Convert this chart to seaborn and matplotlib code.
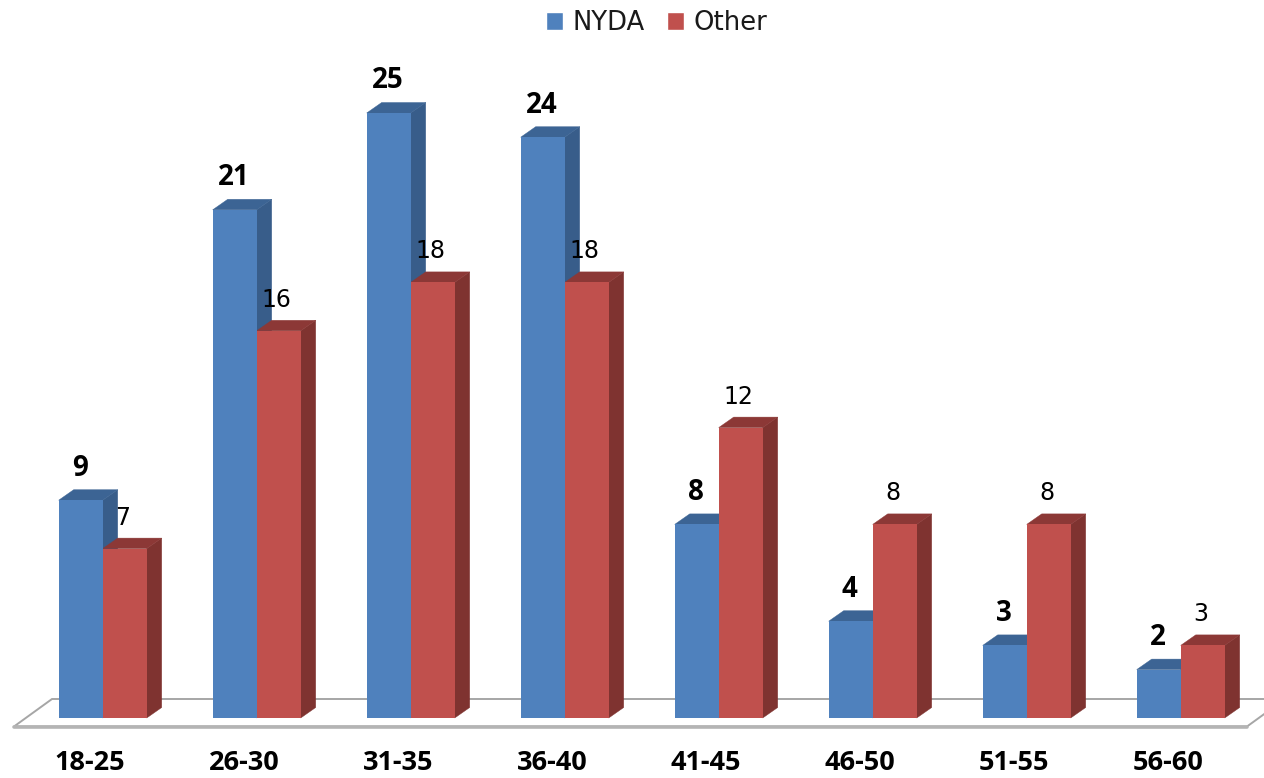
import matplotlib
matplotlib.use("Agg")
import matplotlib.pyplot as plt
from matplotlib.patches import Polygon, Rectangle
import pandas as pd
import seaborn as sns

age_groups = ["18-25", "26-30", "31-35", "36-40", "41-45", "46-50", "51-55", "56-60"]
nyda = [9, 21, 25, 24, 8, 4, 3, 2]
other = [7, 16, 18, 18, 12, 8, 8, 3]
series_names = ["NYDA", "Other"]
front_colors = ["#4F81BD", "#C0504D"]
side_colors = ["#385D8A", "#7F3330"]
top_colors = ["#3C6494", "#8C3836"]

W, H = 1264, 778
PX_PER_CAT = 154.0
PX_PER_UNIT = 24.2
X0, Y0 = 102.7, 718.0
DX_PX, DY_PX = 15.0, 10.5

df = pd.DataFrame({
    "age": age_groups * 2,
    "count": nyda + other,
    "series": [series_names[0]] * len(nyda) + [series_names[1]] * len(other),
})

sns.set_theme(style="white")
plt.rcParams["font.family"] = ["Open Sans", "DejaVu Sans"]

fig = plt.figure(figsize=(W / 100, H / 100), dpi=100)
ax = fig.add_axes([0, 0, 1, 1])
sns.barplot(data=df, x="age", y="count", hue="series", order=age_groups,
            hue_order=series_names, palette=front_colors, width=88 / PX_PER_CAT,
            gap=0, saturation=1, linewidth=0, legend=False, ax=ax, zorder=3)

ax.set_xlim(-X0 / PX_PER_CAT, (W - X0) / PX_PER_CAT)
ax.set_ylim(-(H - Y0) / PX_PER_UNIT, Y0 / PX_PER_UNIT)
ax.axis("off")

dx = DX_PX / PX_PER_CAT
dy = DY_PX / PX_PER_UNIT


def px(x, y):
    return ((x - X0) / PX_PER_CAT, (Y0 - y) / PX_PER_UNIT)


# floor of the 3D plot
floor_pts = [px(14, 726.5), px(52, 699), px(1285, 699), px(1247, 726.5)]
ax.add_patch(Polygon(floor_pts, closed=True, facecolor="white", edgecolor="#A6A6A6",
                     linewidth=1.4, zorder=1))
fx, fy = zip(px(14, 726.5), px(1247, 726.5))
ax.plot(fx, fy, color="#B4B4B4", linewidth=2.6, zorder=1.1, solid_capstyle="round")

# 3D faces built from the seaborn bars
for s, container in enumerate(ax.containers):
    for bar in container:
        x0, w, h = bar.get_x(), bar.get_width(), bar.get_height()
        x1 = x0 + w
        z = 2.6 if s == 1 else 2.5
        ax.add_patch(Polygon([(x1, 0), (x1 + dx, dy), (x1 + dx, h + dy), (x1, h)], closed=True,
                             facecolor=side_colors[s], edgecolor=side_colors[s], linewidth=0.3, zorder=z))
        ax.add_patch(Polygon([(x0, h), (x0 + dx, h + dy), (x1 + dx, h + dy), (x1, h)], closed=True,
                             facecolor=top_colors[s], edgecolor=top_colors[s], linewidth=0.3, zorder=z))

# Other bars sit in front of NYDA side faces
for bar in ax.containers[1]:
    bar.set_zorder(3.2)

# value labels
for bar in ax.containers[0]:
    h = bar.get_height()
    ax.annotate(f"{int(h)}", (bar.get_x() + bar.get_width() / 2, h), xytext=(-1, 32),
                textcoords="offset pixels", ha="center", va="center", fontsize=20, fontweight="bold",
                color="black", zorder=5)
for bar in ax.containers[1]:
    h = bar.get_height()
    ax.annotate(f"{int(h)}", (bar.get_x() + bar.get_width() / 2, h), xytext=(-2, 31),
                textcoords="offset pixels", ha="center", va="center", fontsize=17,
                family="DejaVu Sans", color="black", zorder=5)

# category labels
for i, name in enumerate(age_groups):
    ax.text(i - 12.5 / PX_PER_CAT, (Y0 - 770.5) / PX_PER_UNIT, name, ha="center", va="baseline",
            fontsize=19.5, fontweight="bold", color="black")

# legend
leg_handles = [Rectangle((0, 0), 1, 1, facecolor=c) for c in front_colors]
fig.legend(leg_handles, series_names, loc="center", bbox_to_anchor=(656.5 / W, 1 - 23 / H), ncol=2,
           frameon=False, prop={"family": "DejaVu Sans", "size": 18.6},
           handlelength=0.68, handleheight=0.68,
           handletextpad=0.35, columnspacing=0.87, borderpad=0, labelcolor="#1A1A1A")

fig.savefig("out.png", dpi=100, facecolor="white")
